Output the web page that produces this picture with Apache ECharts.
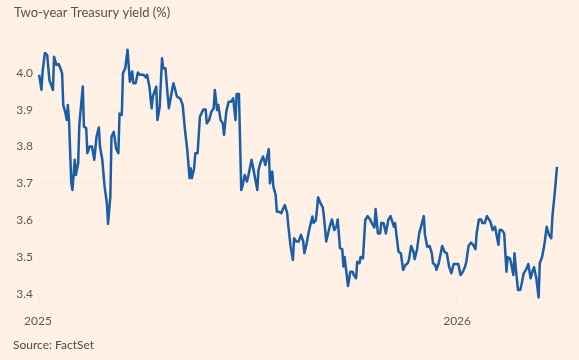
<!DOCTYPE html>
<html>
<head>
<meta charset="utf-8">
<script src="https://cdn.jsdelivr.net/npm/echarts@6/dist/echarts.min.js"></script>
<style>
html,body{margin:0;padding:0;background:#fff1e5;}
#c{width:579px;height:360px;}
</style>
</head>
<body>
<div id="c"></div>
<script>
const dates = [
"2025-01-02","2025-01-04","2025-01-05","2025-01-07","2025-01-09","2025-01-10","2025-01-11","2025-01-13","2025-01-14","2025-01-15",
"2025-01-17","2025-01-18","2025-01-19","2025-01-20","2025-01-22","2025-01-23","2025-01-25","2025-01-26","2025-01-27","2025-01-28",
"2025-01-30","2025-01-31","2025-02-02","2025-02-03","2025-02-05","2025-02-06","2025-02-07","2025-02-09","2025-02-10","2025-02-12",
"2025-02-13","2025-02-15","2025-02-17","2025-02-18","2025-02-19","2025-02-21","2025-02-23","2025-02-24","2025-02-26","2025-02-28",
"2025-03-02","2025-03-03","2025-03-05","2025-03-06","2025-03-08","2025-03-09","2025-03-10","2025-03-12","2025-03-13","2025-03-15",
"2025-03-16","2025-03-18","2025-03-20","2025-03-22","2025-03-24","2025-03-25","2025-03-27","2025-03-29","2025-03-31","2025-04-03",
"2025-04-05","2025-04-06","2025-04-08","2025-04-10","2025-04-11","2025-04-14","2025-04-15","2025-04-17","2025-04-19","2025-04-20",
"2025-04-22","2025-04-24","2025-04-25","2025-04-28","2025-04-29","2025-05-02","2025-05-05","2025-05-07","2025-05-09","2025-05-11",
"2025-05-13","2025-05-14","2025-05-15","2025-05-17","2025-05-18","2025-05-20","2025-05-22","2025-05-23","2025-05-25","2025-05-27",
"2025-05-28","2025-05-30","2025-06-01","2025-06-03","2025-06-04","2025-06-06","2025-06-07","2025-06-09","2025-06-11","2025-06-12",
"2025-06-14","2025-06-16","2025-06-18","2025-06-20","2025-06-22","2025-06-23","2025-06-25","2025-06-27","2025-06-28","2025-06-30",
"2025-07-02","2025-07-03","2025-07-06","2025-07-07","2025-07-08","2025-07-11","2025-07-12","2025-07-14","2025-07-16","2025-07-18",
"2025-07-19","2025-07-21","2025-07-22","2025-07-24","2025-07-25","2025-07-27","2025-07-28","2025-07-30","2025-08-01","2025-08-02",
"2025-08-04","2025-08-06","2025-08-07","2025-08-09","2025-08-11","2025-08-12","2025-08-14","2025-08-16","2025-08-18","2025-08-20",
"2025-08-21","2025-08-23","2025-08-25","2025-08-26","2025-08-28","2025-08-29","2025-08-31","2025-09-02","2025-09-04","2025-09-06",
"2025-09-07","2025-09-09","2025-09-10","2025-09-12","2025-09-14","2025-09-16","2025-09-18","2025-09-19","2025-09-21","2025-09-23",
"2025-09-24","2025-09-25","2025-09-26","2025-09-28","2025-09-30","2025-10-02","2025-10-03","2025-10-05","2025-10-06","2025-10-08",
"2025-10-09","2025-10-11","2025-10-13","2025-10-15","2025-10-17","2025-10-19","2025-10-21","2025-10-22","2025-10-24","2025-10-26",
"2025-10-27","2025-10-29","2025-10-31","2025-11-02","2025-11-04","2025-11-05","2025-11-07","2025-11-08","2025-11-09","2025-11-11",
"2025-11-13","2025-11-15","2025-11-17","2025-11-19","2025-11-20","2025-11-22","2025-11-24","2025-11-25","2025-11-27","2025-11-29",
"2025-12-01","2025-12-03","2025-12-04","2025-12-06","2025-12-07","2025-12-08","2025-12-10","2025-12-11","2025-12-13","2025-12-14",
"2025-12-16","2025-12-18","2025-12-19","2025-12-21","2025-12-23","2025-12-25","2025-12-27","2025-12-29","2025-12-31","2026-01-02",
"2026-01-04","2026-01-06","2026-01-08","2026-01-09","2026-01-11","2026-01-13","2026-01-15","2026-01-17","2026-01-18","2026-01-20",
"2026-01-22","2026-01-23","2026-01-25","2026-01-27","2026-01-28","2026-01-30","2026-02-01","2026-02-03","2026-02-04","2026-02-06",
"2026-02-07","2026-02-09","2026-02-11","2026-02-13","2026-02-14","2026-02-16","2026-02-17","2026-02-19","2026-02-20","2026-02-21",
"2026-02-23","2026-02-25","2026-02-26","2026-02-28","2026-03-02","2026-03-04","2026-03-06","2026-03-08","2026-03-09","2026-03-11",
"2026-03-13","2026-03-14","2026-03-16","2026-03-18","2026-03-20","2026-03-22","2026-03-24","2026-03-25","2026-03-27","2026-03-29"
];
const yields = [
3.995,3.954,4.004,4.054,4.049,4.013,3.980,3.963,3.954,4.044,
4.022,4.017,4.024,4.017,3.999,3.913,3.890,3.872,3.913,3.872,
3.700,3.682,3.764,3.723,3.755,3.859,3.859,3.963,3.854,3.850,
3.782,3.800,3.800,3.795,3.764,3.827,3.852,3.800,3.764,3.691,
3.646,3.590,3.664,3.827,3.840,3.843,3.795,3.782,3.890,3.886,
3.999,4.013,4.063,3.976,4.004,3.972,3.972,4.001,3.995,3.995,
3.988,3.995,3.963,3.904,3.936,3.963,3.872,3.908,4.040,4.013,
4.013,3.936,3.904,3.958,3.972,3.936,3.930,3.913,3.845,3.791,
3.714,3.741,3.714,3.741,3.782,3.782,3.881,3.881,3.901,3.901,
3.863,3.872,3.895,3.904,3.954,3.899,3.913,3.872,3.863,3.832,
3.895,3.922,3.922,3.931,3.872,3.943,3.943,3.682,3.691,3.723,
3.705,3.718,3.764,3.764,3.732,3.682,3.736,3.759,3.773,3.750,
3.745,3.793,3.700,3.732,3.691,3.668,3.623,3.623,3.619,3.628,
3.641,3.619,3.585,3.528,3.492,3.551,3.542,3.542,3.560,3.542,
3.510,3.537,3.571,3.573,3.610,3.592,3.600,3.662,3.646,3.635,
3.610,3.542,3.542,3.582,3.602,3.573,3.584,3.602,3.524,3.521,
3.474,3.500,3.474,3.421,3.460,3.460,3.451,3.442,3.487,3.483,
3.500,3.496,3.600,3.611,3.603,3.590,3.580,3.630,3.564,3.564,
3.592,3.592,3.564,3.600,3.611,3.610,3.582,3.592,3.564,3.514,
3.510,3.465,3.478,3.483,3.492,3.530,3.514,3.494,3.519,3.564,
3.587,3.611,3.560,3.528,3.526,3.530,3.510,3.483,3.478,3.465,
3.483,3.514,3.530,3.514,3.510,3.474,3.456,3.481,3.481,3.481,
3.451,3.460,3.474,3.487,3.530,3.539,3.533,3.521,3.564,3.602,
3.602,3.592,3.592,3.611,3.605,3.596,3.573,3.582,3.566,3.533,
3.573,3.573,3.564,3.460,3.500,3.496,3.483,3.451,3.510,3.474,
3.410,3.410,3.424,3.456,3.465,3.481,3.442,3.465,3.472,3.442,
3.390,3.483,3.500,3.533,3.582,3.560,3.551,3.610,3.673,3.745
];
const yTicks = [3.4, 3.5, 3.6, 3.7, 3.8, 3.9, 4.0];
const xTickLabels = ["2025-01-01", "2026-01-01"];

const toTime = s => Date.UTC(+s.slice(0, 4), +s.slice(5, 7) - 1, +s.slice(8, 10));
const chart = echarts.init(document.getElementById('c'), null, {renderer: 'canvas'});
const font = 'Lato, "Noto Sans", sans-serif';
const xTickTimes = xTickLabels.map(toTime);
chart.setOption({
  backgroundColor: '#fff1e5',
  animation: false,
  title: [
    {text: 'Two-year Treasury yield (%)', left: 9, top: 1,
     textStyle: {fontFamily: font, fontSize: 13, fontWeight: 'normal', color: '#57514d'}},
    {text: 'Source: FactSet', left: 8, top: 334,
     textStyle: {fontFamily: font, fontSize: 12, fontWeight: 'normal', color: '#4e4844'}}
  ],
  grid: {left: 38, right: 22, top: 47.2, bottom: 55.2, containLabel: false},
  xAxis: {
    type: 'value',
    min: toTime('2025-01-01'),
    max: toTime('2026-03-29'),
    axisLine: {show: false},
    axisTick: {show: true, inside: true, length: 7, customValues: xTickTimes,
               lineStyle: {color: '#ece0d5', width: 1}},
    splitLine: {show: false},
    axisLabel: {
      customValues: xTickTimes,
      formatter: v => String(new Date(v).getUTCFullYear()),
      fontFamily: font, fontSize: 12, color: '#5e5753', margin: 10
    }
  },
  yAxis: {
    type: 'value',
    min: 3.37, max: 4.07,
    axisLine: {show: false},
    axisTick: {show: false, customValues: yTicks},
    splitLine: {show: true, lineStyle: {color: '#fbebde', width: 1}},
    axisLabel: {
      customValues: yTicks,
      formatter: v => v.toFixed(1),
      fontFamily: font, fontSize: 12, color: '#5e5753', margin: 5
    }
  },
  series: [{
    type: 'line',
    data: dates.map((d, i) => [toTime(d), yields[i]]),
    showSymbol: false,
    symbol: 'none',
    lineStyle: {color: '#1a5ea8', width: 2.5, join: 'round'},
    silent: true
  }]
});
</script>
</body>
</html>
